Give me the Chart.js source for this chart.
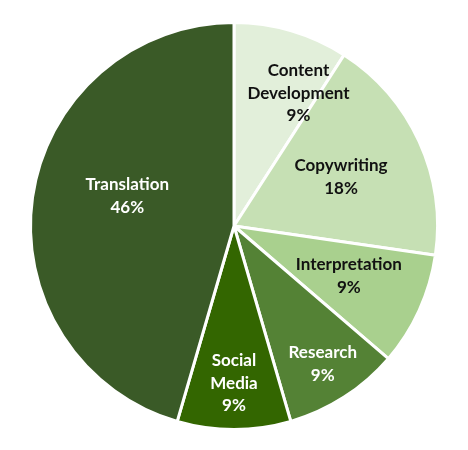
<!DOCTYPE html>
<html>
<head>
<meta charset="utf-8">
<script src="https://cdn.jsdelivr.net/npm/chart.js@4.4.1/dist/chart.umd.min.js"></script>
<style>
  html, body { margin: 0; padding: 0; background: #ffffff; }
  #wrap { width: 468px; height: 450px; position: relative; }
</style>
</head>
<body>
<div id="wrap"><canvas id="c" width="468" height="450"></canvas></div>
<script>
const categories = ['Content Development', 'Copywriting', 'Interpretation', 'Research', 'Social Media', 'Translation'];
const values = [9.1, 18.2, 9.0, 9.2, 9.0, 45.5];
const sliceColors = ['#e2efda', '#c6e0b4', '#a9d08e', '#548235', '#336600', '#3a5a27'];
const labelLines = [['Content', 'Development'], ['Copywriting'], ['Interpretation'], ['Research'], ['Social', 'Media'], ['Translation']];
const labelColors = ['#111111', '#111111', '#111111', '#ffffff', '#ffffff', '#ffffff'];

// label placement: angle shift (deg) from slice bisector and fraction of radius
const labelPlacement = [
  { shift: 9.5, frac: 0.726 },
  { shift: 0, frac: 0.578 },
  { shift: -0.8, frac: 0.616 },
  { shift: 0, frac: 0.806 },
  { shift: 0, frac: 0.772 },
  { shift: 7.7, frac: 0.545 }
];

const total = values.reduce((a, b) => a + b, 0);

const pieLabels = {
  id: 'pieLabels',
  afterDatasetsDraw(chart) {
    const ctx = chart.ctx;
    const meta = chart.getDatasetMeta(0);
    ctx.save();
    ctx.font = 'bold 17px Lato, "Open Sans", sans-serif';
    ctx.textAlign = 'center';
    ctx.textBaseline = 'middle';
    const lh = 22.8;
    meta.data.forEach((arc, i) => {
      const p = arc.getProps(['x', 'y', 'startAngle', 'endAngle', 'outerRadius'], true);
      const pl = labelPlacement[i];
      const mid = (p.startAngle + p.endAngle) / 2 + pl.shift * Math.PI / 180;
      const r = p.outerRadius * pl.frac;
      const cx = p.x + Math.cos(mid) * r;
      const cy = p.y + Math.sin(mid) * r;
      const pct = Math.round(values[i] * 100 / total) + '%';
      const lines = labelLines[i].concat([pct]);
      const top = cy - (lines.length - 1) * lh / 2;
      ctx.fillStyle = labelColors[i];
      lines.forEach((t, k) => ctx.fillText(t, cx, top + k * lh));
    });
    ctx.restore();
  }
};

new Chart(document.getElementById('c'), {
  type: 'pie',
  data: {
    labels: categories,
    datasets: [{
      data: values,
      backgroundColor: sliceColors,
      borderColor: '#ffffff',
      borderWidth: 3
    }]
  },
  options: {
    responsive: false,
    animation: false,
    layout: { padding: { top: 21, bottom: 19, left: 0, right: 0 } },
    plugins: {
      legend: { display: false },
      tooltip: { enabled: false }
    }
  },
  plugins: [pieLabels]
});
</script>
</body>
</html>
